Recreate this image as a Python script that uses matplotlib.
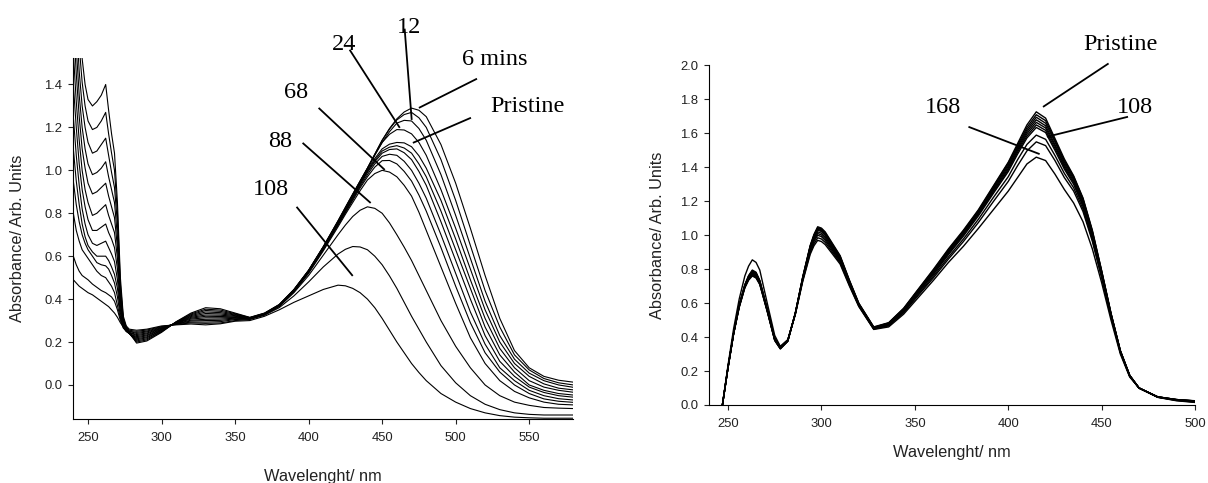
import matplotlib
matplotlib.use("Agg")
import matplotlib.pyplot as plt
import numpy as np

# ---------------- left panel: spectra vs irradiation time ----------------
left_nm_uv = [240, 242, 244, 246, 248, 250, 253, 256, 259, 262, 264, 266, 268,
              270, 272, 274, 276, 278]
left_nm_mid = [283, 290, 300, 310, 320, 330, 340, 350]
left_nm_band = [360, 370, 380, 390, 400, 410, 420, 425, 430, 435, 440, 445, 450,
                455, 460, 465, 470, 475, 480, 490, 500, 510, 520, 530, 540, 550,
                560, 570, 580]

left_uv = [
    [0.49, 0.475, 0.46, 0.45, 0.44, 0.43, 0.42, 0.405, 0.39, 0.375, 0.365, 0.35, 0.335, 0.315, 0.29, 0.27, 0.255, 0.245],
    [0.60, 0.56, 0.53, 0.51, 0.50, 0.49, 0.47, 0.455, 0.44, 0.43, 0.42, 0.41, 0.39, 0.35, 0.30, 0.265, 0.25, 0.24],
    [0.80, 0.72, 0.67, 0.63, 0.61, 0.59, 0.56, 0.53, 0.51, 0.50, 0.48, 0.46, 0.43, 0.37, 0.31, 0.27, 0.25, 0.24],
    [0.95, 0.84, 0.76, 0.70, 0.66, 0.63, 0.60, 0.57, 0.56, 0.555, 0.54, 0.51, 0.475, 0.41, 0.32, 0.27, 0.25, 0.24],
    [1.10, 0.95, 0.84, 0.75, 0.69, 0.65, 0.62, 0.60, 0.60, 0.60, 0.58, 0.55, 0.515, 0.45, 0.335, 0.275, 0.255, 0.24],
    [1.25, 1.07, 0.93, 0.82, 0.75, 0.70, 0.66, 0.65, 0.66, 0.67, 0.64, 0.61, 0.575, 0.49, 0.35, 0.28, 0.255, 0.24],
    [1.40, 1.20, 1.03, 0.91, 0.83, 0.77, 0.72, 0.72, 0.735, 0.75, 0.71, 0.68, 0.64, 0.54, 0.37, 0.285, 0.26, 0.24],
    [1.55, 1.32, 1.14, 1.00, 0.91, 0.85, 0.79, 0.80, 0.82, 0.84, 0.79, 0.75, 0.71, 0.59, 0.39, 0.29, 0.26, 0.245],
    [1.70, 1.45, 1.25, 1.10, 1.01, 0.94, 0.89, 0.90, 0.92, 0.94, 0.88, 0.83, 0.78, 0.64, 0.41, 0.29, 0.26, 0.245],
    [1.85, 1.57, 1.35, 1.20, 1.10, 1.03, 0.98, 0.99, 1.01, 1.04, 0.97, 0.91, 0.85, 0.69, 0.43, 0.30, 0.265, 0.25],
    [2.00, 1.70, 1.46, 1.30, 1.20, 1.13, 1.08, 1.09, 1.12, 1.15, 1.07, 0.99, 0.92, 0.75, 0.45, 0.30, 0.27, 0.25],
    [2.20, 1.85, 1.58, 1.41, 1.30, 1.23, 1.19, 1.20, 1.23, 1.27, 1.17, 1.08, 1.00, 0.80, 0.47, 0.31, 0.27, 0.255],
    [2.40, 2.00, 1.70, 1.52, 1.40, 1.33, 1.30, 1.32, 1.35, 1.40, 1.28, 1.17, 1.08, 0.85, 0.50, 0.32, 0.275, 0.26],
]

left_mid = [
    [0.195, 0.205, 0.245, 0.295, 0.335, 0.36, 0.355, 0.335],
    [0.20, 0.21, 0.248, 0.294, 0.331, 0.353, 0.349, 0.332],
    [0.205, 0.215, 0.25, 0.293, 0.327, 0.347, 0.343, 0.329],
    [0.21, 0.22, 0.253, 0.292, 0.323, 0.34, 0.337, 0.326],
    [0.215, 0.224, 0.255, 0.291, 0.319, 0.333, 0.331, 0.323],
    [0.22, 0.229, 0.258, 0.29, 0.315, 0.326, 0.325, 0.32],
    [0.225, 0.233, 0.26, 0.289, 0.311, 0.32, 0.319, 0.317],
    [0.23, 0.238, 0.263, 0.288, 0.307, 0.313, 0.313, 0.314],
    [0.235, 0.242, 0.265, 0.286, 0.302, 0.306, 0.307, 0.311],
    [0.24, 0.247, 0.267, 0.285, 0.298, 0.30, 0.301, 0.308],
    [0.245, 0.251, 0.27, 0.284, 0.293, 0.293, 0.295, 0.305],
    [0.25, 0.256, 0.272, 0.282, 0.289, 0.287, 0.289, 0.30],
    [0.255, 0.26, 0.275, 0.28, 0.284, 0.28, 0.285, 0.297],
]

left_band = [
    [0.315, 0.335, 0.375, 0.445, 0.535, 0.645, 0.765, 0.828, 0.89, 0.95, 1.01, 1.075, 1.14, 1.195, 1.24, 1.272, 1.29, 1.28, 1.25, 1.12, 0.94, 0.73, 0.51, 0.31, 0.16, 0.08, 0.04, 0.022, 0.013],
    [0.314, 0.334, 0.374, 0.444, 0.534, 0.644, 0.764, 0.826, 0.888, 0.95, 1.01, 1.075, 1.14, 1.192, 1.235, 1.26, 1.27, 1.245, 1.20, 1.05, 0.86, 0.65, 0.44, 0.27, 0.14, 0.07, 0.03, 0.01, 0.0],
    [0.313, 0.333, 0.373, 0.443, 0.533, 0.643, 0.762, 0.824, 0.886, 0.948, 1.01, 1.072, 1.13, 1.18, 1.22, 1.233, 1.23, 1.195, 1.14, 0.98, 0.79, 0.59, 0.39, 0.23, 0.12, 0.055, 0.02, 0.0, -0.011],
    [0.312, 0.332, 0.372, 0.442, 0.532, 0.642, 0.76, 0.822, 0.884, 0.945, 1.005, 1.07, 1.13, 1.168, 1.19, 1.188, 1.17, 1.13, 1.07, 0.91, 0.73, 0.54, 0.35, 0.20, 0.10, 0.04, 0.005, -0.015, -0.023],
    [0.311, 0.331, 0.371, 0.441, 0.531, 0.64, 0.757, 0.818, 0.88, 0.94, 1.0, 1.055, 1.10, 1.122, 1.13, 1.128, 1.11, 1.068, 1.01, 0.86, 0.68, 0.49, 0.31, 0.17, 0.08, 0.02, -0.01, -0.025, -0.034],
    [0.31, 0.33, 0.37, 0.44, 0.53, 0.638, 0.755, 0.815, 0.875, 0.937, 0.995, 1.047, 1.09, 1.108, 1.115, 1.104, 1.08, 1.03, 0.97, 0.81, 0.63, 0.45, 0.27, 0.14, 0.06, 0.0, -0.025, -0.04, -0.047],
    [0.31, 0.33, 0.37, 0.44, 0.528, 0.636, 0.752, 0.81, 0.87, 0.932, 0.99, 1.04, 1.08, 1.097, 1.10, 1.082, 1.05, 0.995, 0.93, 0.76, 0.58, 0.40, 0.23, 0.11, 0.04, -0.01, -0.035, -0.05, -0.057],
    [0.31, 0.33, 0.369, 0.438, 0.526, 0.633, 0.748, 0.806, 0.865, 0.925, 0.98, 1.03, 1.065, 1.075, 1.07, 1.042, 1.00, 0.94, 0.87, 0.70, 0.52, 0.34, 0.19, 0.08, 0.02, -0.025, -0.05, -0.064, -0.07],
    [0.309, 0.329, 0.368, 0.436, 0.524, 0.63, 0.744, 0.802, 0.86, 0.918, 0.97, 1.015, 1.045, 1.046, 1.03, 0.995, 0.95, 0.885, 0.81, 0.64, 0.46, 0.29, 0.15, 0.06, 0.0, -0.04, -0.065, -0.076, -0.081],
    [0.308, 0.328, 0.367, 0.434, 0.52, 0.625, 0.737, 0.795, 0.85, 0.905, 0.955, 0.985, 1.0, 0.992, 0.97, 0.93, 0.88, 0.805, 0.72, 0.55, 0.38, 0.22, 0.10, 0.02, -0.03, -0.06, -0.08, -0.09, -0.093],
    [0.307, 0.327, 0.365, 0.43, 0.51, 0.605, 0.70, 0.745, 0.785, 0.814, 0.83, 0.823, 0.80, 0.755, 0.70, 0.642, 0.58, 0.51, 0.44, 0.30, 0.18, 0.08, 0.0, -0.05, -0.08, -0.095, -0.105, -0.108, -0.11],
    [0.305, 0.325, 0.36, 0.415, 0.48, 0.55, 0.61, 0.632, 0.645, 0.643, 0.63, 0.60, 0.56, 0.508, 0.45, 0.385, 0.32, 0.26, 0.20, 0.09, 0.01, -0.05, -0.09, -0.115, -0.13, -0.137, -0.14, -0.14, -0.14],
    [0.30, 0.32, 0.35, 0.385, 0.415, 0.445, 0.465, 0.462, 0.45, 0.43, 0.40, 0.36, 0.31, 0.255, 0.20, 0.15, 0.10, 0.058, 0.02, -0.04, -0.08, -0.11, -0.13, -0.143, -0.15, -0.153, -0.155, -0.155, -0.155],
]

left_labels = ["6 mins", "12", "24", "Pristine", "68", "88", "108"]
left_label_xy = [(526.9, 1.492), (468.2, 1.64), (424.2, 1.562), (549.1, 1.274),
                 (391.3, 1.337), (380.4, 1.111), (374.4, 0.886)]
left_leaders = [((514.5, 1.427), (475.0, 1.291)),
                ((465.3, 1.660), (470.1, 1.235)),
                ((427.9, 1.562), (462.0, 1.198)),
                ((510.4, 1.245), (470.9, 1.128)),
                ((406.8, 1.291), (451.8, 1.002)),
                ((395.9, 1.128), (442.2, 0.848)),
                ((391.8, 0.830), (430.0, 0.508))]

# ---------------- right panel ----------------
right_nm_uv = [247, 250, 253, 256, 259, 261, 263, 265, 267, 271, 275, 278, 282,
               286, 290, 294, 296, 298, 300, 302, 306, 310, 315, 320, 328]
right_nm_band = [336, 344, 352, 360, 368, 376, 384, 392, 400, 405, 410, 415, 420,
                 425, 430, 435, 440, 445, 450, 455, 460, 465, 470, 480, 490, 500]

right_uv = [
    [0.0, 0.22, 0.42, 0.575, 0.69, 0.735, 0.76, 0.748, 0.71, 0.55, 0.38, 0.33, 0.375, 0.54, 0.755, 0.94, 1.005, 1.05, 1.042, 1.02, 0.95, 0.88, 0.735, 0.60, 0.46],
    [0.0, 0.22, 0.42, 0.578, 0.692, 0.738, 0.765, 0.752, 0.712, 0.552, 0.381, 0.332, 0.376, 0.54, 0.753, 0.937, 1.0, 1.045, 1.037, 1.015, 0.945, 0.876, 0.732, 0.598, 0.458],
    [0.0, 0.22, 0.42, 0.58, 0.695, 0.742, 0.77, 0.757, 0.715, 0.555, 0.383, 0.333, 0.377, 0.54, 0.751, 0.934, 0.996, 1.04, 1.032, 1.01, 0.94, 0.872, 0.729, 0.596, 0.456],
    [0.0, 0.22, 0.421, 0.582, 0.698, 0.746, 0.775, 0.762, 0.718, 0.557, 0.384, 0.335, 0.378, 0.539, 0.749, 0.931, 0.992, 1.035, 1.027, 1.005, 0.935, 0.868, 0.726, 0.594, 0.455],
    [0.0, 0.221, 0.422, 0.584, 0.70, 0.75, 0.78, 0.767, 0.722, 0.559, 0.386, 0.336, 0.379, 0.539, 0.747, 0.928, 0.988, 1.03, 1.022, 1.0, 0.93, 0.864, 0.723, 0.592, 0.454],
    [0.0, 0.222, 0.423, 0.586, 0.703, 0.754, 0.785, 0.772, 0.726, 0.561, 0.388, 0.338, 0.38, 0.538, 0.744, 0.922, 0.98, 1.02, 1.012, 0.99, 0.922, 0.858, 0.719, 0.59, 0.452],
    [0.0, 0.223, 0.424, 0.588, 0.706, 0.758, 0.79, 0.777, 0.73, 0.563, 0.39, 0.34, 0.381, 0.537, 0.741, 0.915, 0.972, 1.01, 1.002, 0.98, 0.915, 0.852, 0.715, 0.588, 0.45],
    [0.0, 0.224, 0.425, 0.59, 0.709, 0.762, 0.795, 0.782, 0.734, 0.565, 0.392, 0.342, 0.382, 0.536, 0.738, 0.908, 0.963, 1.0, 0.992, 0.97, 0.908, 0.846, 0.711, 0.586, 0.449],
    [0.0, 0.223, 0.424, 0.588, 0.706, 0.758, 0.79, 0.778, 0.732, 0.566, 0.394, 0.344, 0.383, 0.535, 0.734, 0.898, 0.95, 0.985, 0.978, 0.958, 0.898, 0.838, 0.706, 0.583, 0.447],
    [0.0, 0.235, 0.45, 0.625, 0.76, 0.818, 0.855, 0.84, 0.795, 0.60, 0.41, 0.345, 0.385, 0.532, 0.728, 0.888, 0.938, 0.97, 0.963, 0.945, 0.888, 0.83, 0.70, 0.58, 0.445],
]

right_band = [
    [0.485, 0.57, 0.685, 0.80, 0.92, 1.03, 1.15, 1.29, 1.43, 1.54, 1.65, 1.727, 1.69, 1.57, 1.45, 1.35, 1.22, 1.03, 0.79, 0.54, 0.32, 0.175, 0.10, 0.045, 0.025, 0.015],
    [0.483, 0.567, 0.682, 0.795, 0.915, 1.025, 1.145, 1.285, 1.425, 1.53, 1.635, 1.71, 1.675, 1.56, 1.44, 1.345, 1.215, 1.025, 0.79, 0.54, 0.32, 0.175, 0.10, 0.046, 0.027, 0.017],
    [0.482, 0.565, 0.679, 0.79, 0.91, 1.02, 1.14, 1.278, 1.415, 1.52, 1.622, 1.695, 1.66, 1.55, 1.43, 1.34, 1.21, 1.02, 0.785, 0.538, 0.32, 0.175, 0.10, 0.046, 0.028, 0.018],
    [0.48, 0.562, 0.675, 0.785, 0.905, 1.015, 1.135, 1.27, 1.405, 1.51, 1.61, 1.68, 1.645, 1.535, 1.42, 1.33, 1.20, 1.01, 0.78, 0.535, 0.318, 0.174, 0.10, 0.047, 0.029, 0.02],
    [0.478, 0.56, 0.672, 0.78, 0.90, 1.01, 1.13, 1.262, 1.395, 1.50, 1.598, 1.665, 1.632, 1.525, 1.41, 1.32, 1.19, 1.0, 0.775, 0.532, 0.316, 0.173, 0.10, 0.047, 0.03, 0.021],
    [0.476, 0.557, 0.668, 0.775, 0.893, 1.003, 1.122, 1.254, 1.385, 1.49, 1.585, 1.65, 1.618, 1.512, 1.40, 1.31, 1.18, 0.995, 0.77, 0.53, 0.315, 0.172, 0.10, 0.048, 0.031, 0.022],
    [0.474, 0.554, 0.664, 0.77, 0.886, 0.995, 1.114, 1.246, 1.375, 1.478, 1.573, 1.635, 1.605, 1.50, 1.39, 1.30, 1.17, 0.99, 0.765, 0.527, 0.313, 0.171, 0.10, 0.048, 0.032, 0.023],
    [0.47, 0.548, 0.655, 0.76, 0.872, 0.978, 1.094, 1.222, 1.345, 1.445, 1.535, 1.59, 1.565, 1.47, 1.365, 1.28, 1.155, 0.975, 0.755, 0.522, 0.31, 0.17, 0.10, 0.048, 0.032, 0.024],
    [0.466, 0.543, 0.648, 0.75, 0.86, 0.963, 1.075, 1.198, 1.317, 1.41, 1.497, 1.55, 1.528, 1.44, 1.34, 1.26, 1.14, 0.965, 0.748, 0.518, 0.308, 0.169, 0.10, 0.048, 0.032, 0.024],
    [0.46, 0.535, 0.635, 0.735, 0.84, 0.935, 1.04, 1.15, 1.26, 1.34, 1.42, 1.46, 1.44, 1.36, 1.27, 1.19, 1.08, 0.92, 0.72, 0.50, 0.30, 0.165, 0.10, 0.048, 0.032, 0.025],
]

right_labels = ["Pristine", "108", "168"]
right_label_xy = [(459.8, 2.090), (468.0, 1.718), (365.3, 1.718)]
right_leaders = [((453.7, 2.012), (418.6, 1.756)),
                 ((464.1, 1.698), (420.7, 1.580)),
                 ((378.7, 1.639), (416.8, 1.478))]

SANS = "Liberation Sans"
SERIF = "Liberation Serif"
plt.rcParams["font.family"] = SANS

fig = plt.figure(figsize=(12.08, 4.83), dpi=100)
axL = fig.add_axes([0.0607, 0.1319, 0.4139, 0.7487])
axR = fig.add_axes([0.5872, 0.1615, 0.4021, 0.7029])

# left curves
left_x = np.array(left_nm_uv + left_nm_mid + left_nm_band)
for uv, mid, band in zip(left_uv, left_mid, left_band):
    axL.plot(left_x, uv + mid + band, color="black", lw=0.8)

# right curves
right_x = np.array(right_nm_uv + right_nm_band)
for uv, band in zip(right_uv, right_band):
    axR.plot(right_x, uv + band, color="black", lw=1.0)


def style(ax, xlim, ylim, xticks, yticks, xpad):
    ax.set_xlim(*xlim)
    ax.set_ylim(*ylim)
    ax.set_xticks(xticks)
    ax.set_yticks(yticks)
    ax.set_yticklabels([f"{v:.1f}" for v in yticks])
    for s in ["top", "right"]:
        ax.spines[s].set_visible(False)
    for s in ["left", "bottom"]:
        ax.spines[s].set_linewidth(0.8)
    ax.tick_params(direction="out", length=3.3, width=0.8, labelsize=9.4,
                   colors="#222222")
    ax.tick_params(axis="x", pad=xpad)
    ax.tick_params(axis="y", pad=4.5)


style(axL, (240, 580), (-0.16, 1.525), np.arange(250, 551, 50),
      np.round(np.arange(0, 1.41, 0.2), 1), 5.5)
style(axR, (240, 500), (0, 2.0), np.arange(250, 501, 50),
      np.round(np.arange(0, 2.01, 0.2), 1), 6.3)

for ax, xl_y, yl_x in [(axL, -0.157, -0.112), (axR, -0.141, -0.106)]:
    ax.set_xlabel("Wavelenght/ nm", fontsize=11.8, color="#222222")
    ax.set_ylabel("Absorbance/ Arb. Units", fontsize=11.8, color="#222222")
    ax.xaxis.set_label_coords(0.5, xl_y)
    ax.yaxis.set_label_coords(yl_x, 0.5)
    ax.xaxis.label.set_verticalalignment("center")
    ax.yaxis.label.set_verticalalignment("center")

# annotations
for ax, labels, xy, leaders in [(axL, left_labels, left_label_xy, left_leaders),
                                (axR, right_labels, right_label_xy, right_leaders)]:
    for text, (tx, ty), (p0, p1) in zip(labels, xy, leaders):
        ax.text(tx, ty, text, family=SERIF, fontsize=17.5, ha="center",
                va="baseline", color="black", clip_on=False)
        ax.plot([p0[0], p1[0]], [p0[1], p1[1]], color="black", lw=1.3,
                clip_on=False, solid_capstyle="butt")

fig.savefig("out.png", dpi=100)
